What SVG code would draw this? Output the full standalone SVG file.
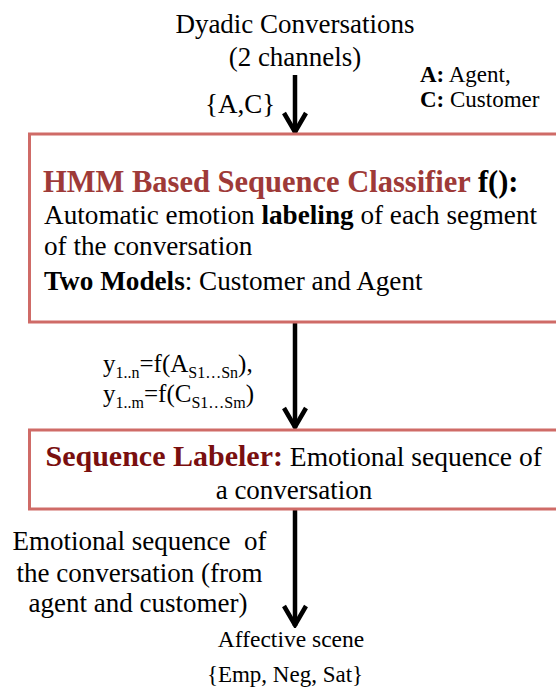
<svg xmlns="http://www.w3.org/2000/svg" width="556" height="688" viewBox="0 0 556 688">
<style>
text{font-family:"Liberation Serif","Times New Roman",serif;fill:#000}
.box{fill:#fff;stroke:#cf6b67;stroke-width:3}
.arr{stroke:#000;stroke-width:4.5;fill:none}
.b{font-weight:bold}
.body{font-size:27.2px}
</style>
<defs>
<marker id="ah" viewBox="-22 -13 24 26" refX="0" refY="0" markerWidth="24" markerHeight="26" orient="auto" markerUnits="userSpaceOnUse">
<path d="M-20,-11 L-1,0 L-20,11" fill="none" stroke="#000" stroke-width="4.5"/>
</marker>
</defs>
<g id="connectors">
<line class="arr" x1="295" y1="75" x2="295" y2="133" marker-end="url(#ah)"/>
<line class="arr" x1="295" y1="322" x2="295" y2="428" marker-end="url(#ah)"/>
<line class="arr" x1="295" y1="509" x2="295" y2="626" marker-end="url(#ah)"/>
</g>
<g id="input">
<text x="295" y="33" font-size="27" text-anchor="middle">Dyadic Conversations</text>
<text x="295" y="66" font-size="27" text-anchor="middle">(2 channels)</text>
<text x="205" y="113" font-size="27">{A,C}</text>
</g>
<g id="legend">
<text x="420" y="82" font-size="23"><tspan class="b">A:</tspan> Agent,</text>
<text x="420" y="107" font-size="23"><tspan class="b">C:</tspan> Customer</text>
</g>
<g id="classifier">
<rect class="box" x="29.5" y="134" width="540" height="188"/>
<text x="43" y="192" font-size="30.5" class="b"><tspan fill="#9e3a38">HMM Based Sequence Classifier</tspan> f():</text>
<text x="44" y="224" class="body">Automatic emotion <tspan class="b">labeling</tspan> of each segment</text>
<text x="44" y="255" class="body">of the conversation</text>
<text x="44" y="290" class="body"><tspan class="b">Two Models</tspan>: Customer and Agent</text>
</g>
<g id="edge-label">
<text x="103" y="372" font-size="25">y<tspan font-size="16" dy="6">1..n</tspan><tspan dy="-6">=f(A</tspan><tspan font-size="16" dy="6">S1…Sn</tspan><tspan dy="-6">),</tspan></text>
<text x="103" y="402" font-size="25">y<tspan font-size="16" dy="6">1..m</tspan><tspan dy="-6">=f(C</tspan><tspan font-size="16" dy="6">S1…Sm</tspan><tspan dy="-6">)</tspan></text>
</g>
<g id="labeler">
<rect class="box" x="29.5" y="430" width="540" height="79"/>
<text x="45.5" y="466" font-size="27.5"><tspan class="b" fill="#7a0f0f" font-size="30">Sequence Labeler:</tspan> Emotional sequence of</text>
<text x="294" y="498.5" font-size="27" text-anchor="middle">a conversation</text>
</g>
<g id="output-label">
<text x="139.5" y="550" font-size="27" text-anchor="middle" xml:space="preserve">Emotional sequence  of</text>
<text x="139.5" y="582" font-size="27" text-anchor="middle">the conversation (from</text>
<text x="138" y="612" font-size="27" text-anchor="middle">agent and customer)</text>
</g>
<g id="output">
<text x="291" y="647" font-size="23.5" text-anchor="middle">Affective scene</text>
<text x="285" y="682" font-size="23" text-anchor="middle">{Emp, Neg, Sat}</text>
</g>
</svg>
